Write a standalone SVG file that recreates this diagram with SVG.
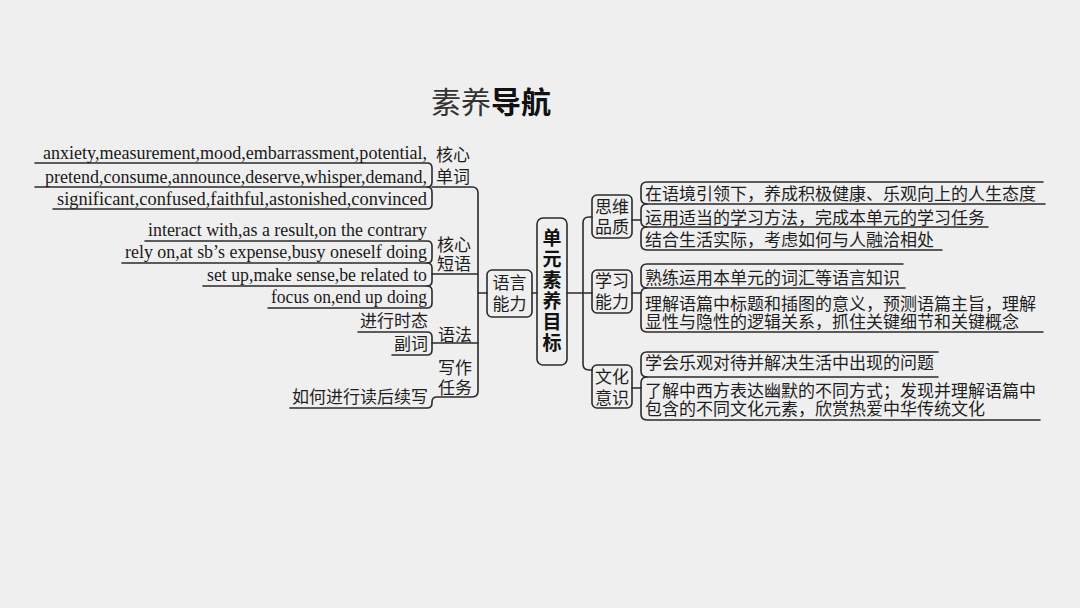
<svg xmlns="http://www.w3.org/2000/svg" width="1080" height="608" viewBox="0 0 1080 608">
<defs>
<style>
.ln{fill:none;stroke:#2b2b2b;stroke-width:1.6;stroke-linecap:round;stroke-linejoin:round}
.bx{fill:none;stroke:#2b2b2b;stroke-width:1.6}
.en{font-family:"Liberation Serif","DejaVu Serif",serif;font-size:18px;fill:#1a1a1a}
.zh{font-family:"Noto Sans CJK SC","Noto Sans",sans-serif;font-size:17px;fill:#1e1e1e}
.zb{font-family:"Noto Sans CJK SC","Noto Sans",sans-serif;font-size:19px;font-weight:bold;fill:#111}
.mid{text-anchor:middle}
.end{text-anchor:end}
</style>
</defs>
<rect width="1080" height="608" fill="#efefef"/>
<text x="431" y="113" font-family="'Noto Sans CJK SC',sans-serif" font-size="30" fill="#333">素养<tspan font-weight="bold" fill="#111">导航</tspan></text>

<g id="connectors">
<path class="ln" d="M35 163 L427 163 Q432 163 432 168 L432 182 Q432 187 427 187 L35 187"/>
<path class="ln" d="M427 187 Q432 187 432 192 L432 204 Q432 209 427 209 L53 209"/>
<path class="ln" d="M145 241 L427 241 Q432 241 432 246 L432 258 Q432 263 427 263 L122 263"/>
<path class="ln" d="M427 263 Q432 263 432 268 L432 281 Q432 286 427 286 L203 286"/>
<path class="ln" d="M427 286 Q432 286 432 291 L432 303 Q432 308 427 308 L268 308"/>
<path class="ln" d="M432 274 L478 274"/>
<path class="ln" d="M358 332 L427 332 Q432 332 432 337 L432 350 Q432 355 427 355 L392 355"/>
<path class="ln" d="M432 343 L478 343"/>
<path class="ln" d="M290 408 L427 408 Q432 408 432 403 L432 402 Q432 397 437 397 L472 397 Q478 397 478 391 L478 193 Q478 187 472 187 L432 187"/>
<path class="ln" d="M478 293 L487 293"/>
<path class="ln" d="M532 293 L537 293"/>
<path class="ln" d="M567 293 L592 293"/>
<path class="ln" d="M592 217 L589 217 Q583 217 583 223 L583 364 Q583 370 589 370 L592 370"/>
<path class="ln" d="M632 220 L641 220"/>
<path class="ln" d="M1043 182 L647 182 Q641 182 641 188 L641 198 Q641 204 647 204 L1045 204"/>
<path class="ln" d="M647 204 Q641 204 641 210 L641 221 Q641 227 647 227 L988 227"/>
<path class="ln" d="M647 227 Q641 227 641 233 L641 244 Q641 250 647 250 L942 250"/>
<path class="ln" d="M632 293 L641 293"/>
<path class="ln" d="M903 264 L647 264 Q641 264 641 270 L641 282 Q641 288 647 288 L905 288"/>
<path class="ln" d="M647 288 Q641 288 641 294 L641 326 Q641 332 647 332 L1043 332"/>
<path class="ln" d="M632 388 L641 388"/>
<path class="ln" d="M938 352 L647 352 Q641 352 641 358 L641 371 Q641 377 647 377 L938 377"/>
<path class="ln" d="M647 377 Q641 377 641 383 L641 414 Q641 420 647 420 L1040 420"/>
</g>

<g id="words">
<text class="en end" x="427" y="159" textLength="384" lengthAdjust="spacingAndGlyphs">anxiety,measurement,mood,embarrassment,potential,</text>
<text class="en end" x="427" y="183" textLength="382" lengthAdjust="spacingAndGlyphs">pretend,consume,announce,deserve,whisper,demand,</text>
<text class="en end" x="427" y="205" textLength="370" lengthAdjust="spacingAndGlyphs">significant,confused,faithful,astonished,convinced</text>
</g>
<g id="label-words"><text class="zh mid" x="453" y="161">核心</text><text class="zh mid" x="453" y="183">单词</text></g>

<g id="phrases">
<text class="en end" x="427" y="236" textLength="279" lengthAdjust="spacingAndGlyphs">interact with,as a result,on the contrary</text>
<text class="en end" x="427" y="258" textLength="302" lengthAdjust="spacingAndGlyphs">rely on,at sb’s expense,busy oneself doing</text>
<text class="en end" x="427" y="281" textLength="220" lengthAdjust="spacingAndGlyphs">set up,make sense,be related to</text>
<text class="en end" x="427" y="303" textLength="156" lengthAdjust="spacingAndGlyphs">focus on,end up doing</text>
</g>
<g id="label-phrases"><text class="zh mid" x="454" y="251">核心</text><text class="zh mid" x="454" y="270">短语</text></g>

<g id="grammar">
<text class="zh end" x="428" y="327">进行时态</text>
<text class="zh end" x="428" y="350">副词</text>
</g>
<g id="label-grammar"><text class="zh mid" x="455" y="341">语法</text></g>

<g id="writing"><text class="zh end" x="428" y="403">如何进行读后续写</text></g>
<g id="label-writing"><text class="zh mid" x="455" y="374">写作</text><text class="zh mid" x="455" y="394">任务</text></g>

<g id="node-language">
<rect class="bx" x="487" y="270" width="45" height="47" rx="5"/>
<text class="zh mid" x="509.5" y="289">语言</text><text class="zh mid" x="509.5" y="310">能力</text>
</g>

<g id="node-center">
<rect class="bx" x="537" y="218" width="30" height="147" rx="6"/>
<text class="zb mid" x="552" y="245">单</text>
<text class="zb mid" x="552" y="266">元</text>
<text class="zb mid" x="552" y="287">素</text>
<text class="zb mid" x="552" y="308">养</text>
<text class="zb mid" x="552" y="329">目</text>
<text class="zb mid" x="552" y="350">标</text>
</g>

<g id="node-thinking">
<rect class="bx" x="592" y="195" width="40" height="43" rx="5"/>
<text class="zh mid" x="612" y="213">思维</text><text class="zh mid" x="612" y="233">品质</text>
<text class="zh" x="645" y="200">在语境引领下，养成积极健康、乐观向上的人生态度</text>
<text class="zh" x="645" y="224">运用适当的学习方法，完成本单元的学习任务</text>
<text class="zh" x="645" y="246">结合生活实际，考虑如何与人融洽相处</text>
</g>

<g id="node-learning">
<rect class="bx" x="592" y="270" width="40" height="43" rx="5"/>
<text class="zh mid" x="612" y="287">学习</text><text class="zh mid" x="612" y="308">能力</text>
<text class="zh" x="645" y="284">熟练运用本单元的词汇等语言知识</text>
<text class="zh" x="645" y="310">理解语篇中标题和插图的意义，预测语篇主旨，理解</text>
<text class="zh" x="645" y="328">显性与隐性的逻辑关系，抓住关键细节和关键概念</text>
</g>

<g id="node-culture">
<rect class="bx" x="592" y="365" width="40" height="43" rx="5"/>
<text class="zh mid" x="612" y="383">文化</text><text class="zh mid" x="612" y="404">意识</text>
<text class="zh" x="645" y="369">学会乐观对待并解决生活中出现的问题</text>
<text class="zh" x="645" y="397">了解中西方表达幽默的不同方式；发现并理解语篇中</text>
<text class="zh" x="645" y="415">包含的不同文化元素，欣赏热爱中华传统文化</text>
</g>
</svg>
